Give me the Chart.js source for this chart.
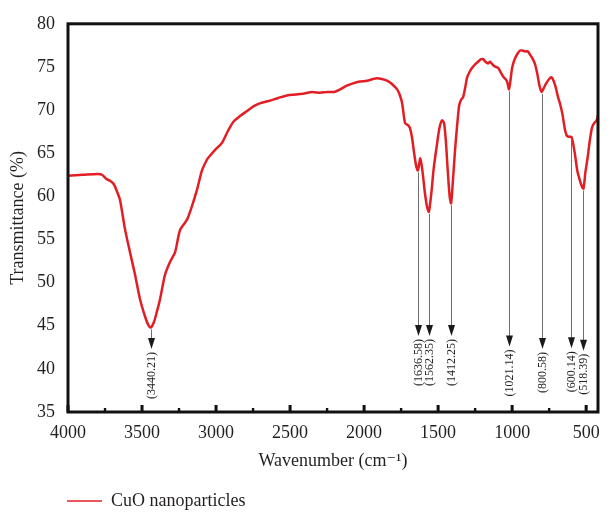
<!DOCTYPE html>
<html>
<head>
<meta charset="utf-8">
<title>FTIR - CuO nanoparticles</title>
<script src="https://cdn.jsdelivr.net/npm/chart.js@4.4.1/dist/chart.umd.min.js"></script>
<style>
  body { margin: 0; background: #fff; }
  #wrap { width: 616px; height: 512px; }
</style>
</head>
<body>
<div id="wrap"><canvas id="myChart" width="616" height="512"></canvas></div>
<script>
/* spectrum (cm-1, %T) */
var wavenumber = [
  4000, 3900, 3800, 3770, 3740, 3716, 3690, 3670, 3649, 3615, 3581, 3547, 3514, 3480, 3455, 3440,
  3420, 3400, 3378, 3345, 3311, 3277, 3243, 3196, 3162, 3128, 3095, 3060, 3041, 3000, 2960, 2919,
  2880, 2838, 2790, 2750, 2700, 2635, 2580, 2520, 2460, 2412, 2350, 2297, 2250, 2200, 2162, 2120,
  2074, 2030, 1980, 1940, 1912, 1880, 1845, 1810, 1777, 1760, 1743, 1723, 1700, 1690, 1676, 1662,
  1648, 1636.58, 1620, 1605, 1590, 1575, 1562.35, 1545, 1530, 1507, 1490, 1473, 1460, 1448, 1435, 1422,
  1412.25, 1400, 1385, 1372, 1358, 1345, 1331, 1315, 1304, 1285, 1270, 1250, 1230, 1210, 1196, 1180,
  1162, 1150, 1128, 1110, 1095, 1075, 1061, 1045, 1034, 1021.14, 1010, 1000, 985, 965, 946, 930,
  912, 895, 878, 860, 845, 830, 815, 800.58, 785, 770, 750, 735, 720, 705, 690, 676,
  660, 645, 630, 615, 600.14, 590, 575, 560, 545, 530, 518.39, 505, 490, 475, 460, 445,
  430, 420
];
var transmittance = [
  62.4, 62.5, 62.6, 62.5, 62.0, 61.8, 61.4, 60.6, 59.6, 56.2, 53.5, 50.9, 48.1, 46.1, 45.0, 44.8,
  45.4, 46.6, 48.1, 50.9, 52.4, 53.5, 56.1, 57.3, 58.9, 60.8, 63.0, 64.3, 64.7, 65.5, 66.2, 67.6,
  68.7, 69.3, 69.9, 70.4, 70.8, 71.1, 71.4, 71.7, 71.8, 71.9, 72.1, 72.0, 72.1, 72.1, 72.4, 72.8,
  73.1, 73.3, 73.4, 73.6, 73.7, 73.6, 73.4, 73.0, 72.4, 71.8, 70.8, 68.5, 68.2, 67.9, 66.8, 65.0,
  63.5, 63.0, 64.4, 62.8, 60.5, 58.8, 58.2, 60.5, 63.2, 66.1, 68.0, 68.8, 68.5, 66.5, 63.0, 60.0,
  59.2, 61.8, 65.5, 68.1, 70.5, 71.2, 71.5, 72.8, 73.8, 74.5, 74.9, 75.3, 75.6, 75.9, 75.9, 75.6,
  75.4, 75.6, 75.2, 75.0, 74.9, 74.3, 73.9, 73.6, 73.3, 72.4, 73.6, 74.9, 75.8, 76.5, 76.9, 76.9,
  76.8, 76.8, 76.4, 75.9, 75.3, 74.2, 72.8, 72.1, 72.6, 73.1, 73.6, 73.8, 73.4, 72.6, 71.5, 70.7,
  69.5, 67.9, 67.0, 66.9, 66.9, 66.3, 64.8, 63.0, 62.0, 61.2, 60.9, 62.8, 64.5, 66.5, 68.0, 68.5,
  68.8, 69.4
];

/* marked bands and where their arrows stop (%T) */
var peakWavenumber = [3440.21, 1636.58, 1562.35, 1412.25, 1021.14, 800.58, 600.14, 518.39];
var peakLabels = ['(3440.21)', '(1636.58)', '(1562.35)', '(1412.25)', '(1021.14)', '(800.58)', '(600.14)', '(518.39)'];
var arrowEnd = [42.3, 43.8, 43.8, 43.8, 42.6, 42.3, 42.4, 42.1];

/* axes */
var xMajorTicks = [4000, 3500, 3000, 2500, 2000, 1500, 1000, 500];
var xMinorTicks = [3750, 3250, 2750, 2250, 1750, 1250, 750];
var xMin = 420, xMax = 4000;
var yMin = 35, yMax = 80;

var seriesName = 'CuO nanoparticles';
var textColor = '#231f20';
var serif = "'Liberation Serif', 'DejaVu Serif', serif";

function curveAt(wn) {
  for (var i = 0; i < wavenumber.length - 1; i++) {
    var a = wavenumber[i], b = wavenumber[i + 1];
    if (wn <= a && wn >= b) {
      var t = (a - wn) / (a - b);
      return transmittance[i] + t * (transmittance[i + 1] - transmittance[i]);
    }
  }
  return transmittance[transmittance.length - 1];
}

var points = wavenumber.map(function(w, i) {
  return { x: w, y: transmittance[i] };
});

/* frame, inner ticks and band arrows */
var spectrumDecor = {
  id: 'spectrumDecor',
  afterLayout: function(chart) {
    // legend sits under the plot, indented like the figure
    chart.legend.left += 57;
    chart.legend.top += 8;
  },
  afterDatasetsDraw: function(chart) {
    var ctx = chart.ctx;
    var area = chart.chartArea;
    var xs = chart.scales.x, ys = chart.scales.y;
    ctx.save();

    // arrows
    ctx.font = '12px ' + serif;
    peakWavenumber.forEach(function(wn, i) {
      var px = Math.round(xs.getPixelForValue(wn)) + 0.5;
      var top = ys.getPixelForValue(curveAt(wn)) + 2;
      var tip = ys.getPixelForValue(arrowEnd[i]);
      ctx.strokeStyle = '#6d6d6d';
      ctx.lineWidth = 1;
      ctx.beginPath();
      ctx.moveTo(px, top);
      ctx.lineTo(px, tip - 8);
      ctx.stroke();
      ctx.fillStyle = '#1a1a1a';
      ctx.beginPath();
      ctx.moveTo(px - 3.5, tip - 11);
      ctx.lineTo(px + 3.5, tip - 11);
      ctx.lineTo(px, tip);
      ctx.closePath();
      ctx.fill();

      ctx.save();
      ctx.translate(px, tip + 3);
      ctx.rotate(-Math.PI / 2);
      ctx.fillStyle = textColor;
      ctx.textAlign = 'right';
      ctx.textBaseline = 'middle';
      ctx.fillText(peakLabels[i], 0, 0);
      ctx.restore();
    });

    // ticks pointing into the plot
    ctx.fillStyle = '#111';
    xMajorTicks.forEach(function(v) {
      var px = xs.getPixelForValue(v);
      ctx.fillRect(px - 1.5, area.bottom - 7, 3, 7);
    });
    xMinorTicks.forEach(function(v) {
      var px = xs.getPixelForValue(v);
      ctx.fillRect(px - 1.2, area.bottom - 4, 2.4, 4);
    });

    // frame
    ctx.strokeStyle = '#111';
    ctx.lineWidth = 3;
    ctx.strokeRect(area.left, area.top, area.right - area.left, area.bottom - area.top);
    ctx.restore();
  }
};

var config = {
  type: 'line',
  data: {
    datasets: [{
      label: seriesName,
      data: points,
      borderColor: 'rgb(226, 30, 36)',
      backgroundColor: 'rgb(226, 30, 36)',
      borderWidth: 2.5,
      pointRadius: 0,
      tension: 0.25,
      fill: false
    }]
  },
  options: {
    responsive: false,
    animation: false,
    layout: { padding: { top: 18, right: 18, left: 0, bottom: 0 } },
    scales: {
      x: {
        type: 'linear',
        reverse: true,
        min: xMin,
        max: xMax,
        grid: { display: false, drawTicks: false },
        border: { display: false },
        afterBuildTicks: function(scale) {
          scale.ticks = xMajorTicks.map(function(v) { return { value: v }; });
        },
        afterFit: function(scale) { scale.height = 62; },
        ticks: {
          autoSkip: false,
          maxRotation: 0,
          padding: 10,
          color: textColor,
          font: { family: serif, size: 18 },
          callback: function(v) { return String(v); }
        },
        title: {
          display: true,
          text: 'Wavenumber (cm\u207B\u00B9)',
          color: textColor,
          font: { family: serif, size: 18 },
          padding: { top: 4, bottom: 2 }
        }
      },
      y: {
        min: yMin,
        max: yMax,
        grid: { display: false, drawTicks: false },
        border: { display: false },
        afterFit: function(scale) { scale.width = 68; },
        ticks: {
          stepSize: 5,
          padding: 13,
          color: textColor,
          font: { family: serif, size: 18 }
        },
        title: {
          display: true,
          text: 'Transmittance (%)',
          color: textColor,
          font: { family: serif, size: 18 },
          padding: { top: 7, bottom: 0 }
        }
      }
    },
    plugins: {
      tooltip: { enabled: false },
      legend: {
        display: true,
        position: 'bottom',
        align: 'start',
        labels: {
          usePointStyle: true,
          pointStyle: 'line',
          pointStyleWidth: 35,
          padding: 10,
          color: textColor,
          font: { family: serif, size: 18 },
          generateLabels: function(chart) {
            var items = Chart.defaults.plugins.legend.labels.generateLabels(chart);
            items.forEach(function(it) { it.lineWidth = 1.5; });
            return items;
          }
        }
      }
    }
  },
  plugins: [spectrumDecor]
};

window.onload = function() {
  var ctx = document.getElementById('myChart').getContext('2d');
  window.irChart = new Chart(ctx, config);
};
</script>
</body>
</html>
